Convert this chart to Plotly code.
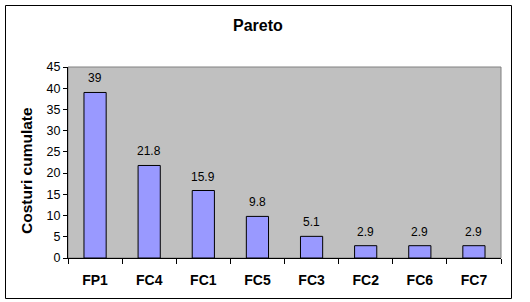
import plotly.graph_objects as go

categories = ["FP1", "FC4", "FC1", "FC5", "FC3", "FC2", "FC6", "FC7"]
values = [39, 21.8, 15.9, 9.8, 5.1, 2.9, 2.9, 2.9]
value_labels = ["39", "21.8", "15.9", "9.8", "5.1", "2.9", "2.9", "2.9"]
y_ticks = [0, 5, 10, 15, 20, 25, 30, 35, 40, 45]

W, H = 530, 302
L, R, T, B = 68, 29, 67, 44
pw, ph = W - L - R, H - T - B

def px(x):
    return (x - L) / pw

def py(y):
    return (H - B - y) / ph

FONT = "Liberation Sans, Arial, sans-serif"

fig = go.Figure()
fig.add_trace(go.Bar(
    x=categories, y=values,
    marker=dict(color="#9999FF", line=dict(color="black", width=1)),
    width=0.41,
    hoverinfo="skip",
))

annotations = []
for c, v, t in zip(categories, values, value_labels):
    annotations.append(dict(x=c, y=v, xref="x", yref="y", text=t, showarrow=False,
                            yanchor="middle", yshift=14,
                            font=dict(family=FONT, size=12, color="black")))
annotations.append(dict(x=px(258), y=py(25), xref="paper", yref="paper", text="<b>Pareto</b>",
                        showarrow=False, xanchor="center", yanchor="middle",
                        font=dict(family=FONT, size=16, color="black")))
annotations.append(dict(x=px(26), y=py(171), xref="paper", yref="paper", text="<b>Costuri cumulate</b>",
                        showarrow=False, xanchor="center", yanchor="middle", textangle=-90,
                        font=dict(family=FONT, size=15.5, color="black")))

shapes = [
    dict(type="rect", xref="paper", yref="paper", x0=0, x1=1, y0=0, y1=1,
         fillcolor="#C0C0C0", line=dict(color="#808080", width=1), layer="below"),
    dict(type="rect", xref="paper", yref="paper", x0=px(5.5), x1=px(511.5), y0=py(298.5), y1=py(5.5),
         fillcolor="rgba(0,0,0,0)", line=dict(color="black", width=1), layer="above"),
]

fig.update_layout(
    width=W, height=H,
    margin=dict(l=L, r=R, t=T, b=B),
    paper_bgcolor="white", plot_bgcolor="#C0C0C0",
    showlegend=False,
    annotations=annotations,
    shapes=shapes,
    xaxis=dict(showline=True, linecolor="black", linewidth=1, ticks="outside", tickson="boundaries",
               ticklen=5, tickcolor="black", showgrid=False, zeroline=False, ticklabelstandoff=9,
               tickfont=dict(family=FONT, size=14, color="black"), fixedrange=True),
    yaxis=dict(range=[0, 45], tickvals=y_ticks, showline=True, linecolor="black", linewidth=1,
               ticks="outside", ticklen=4, tickcolor="black", showgrid=False, zeroline=False,
               tickfont=dict(family=FONT, size=12.5, color="black"), fixedrange=True),
)
fig.update_xaxes(tickprefix="<b>", ticksuffix="</b>")

fig.write_html("out.html")
